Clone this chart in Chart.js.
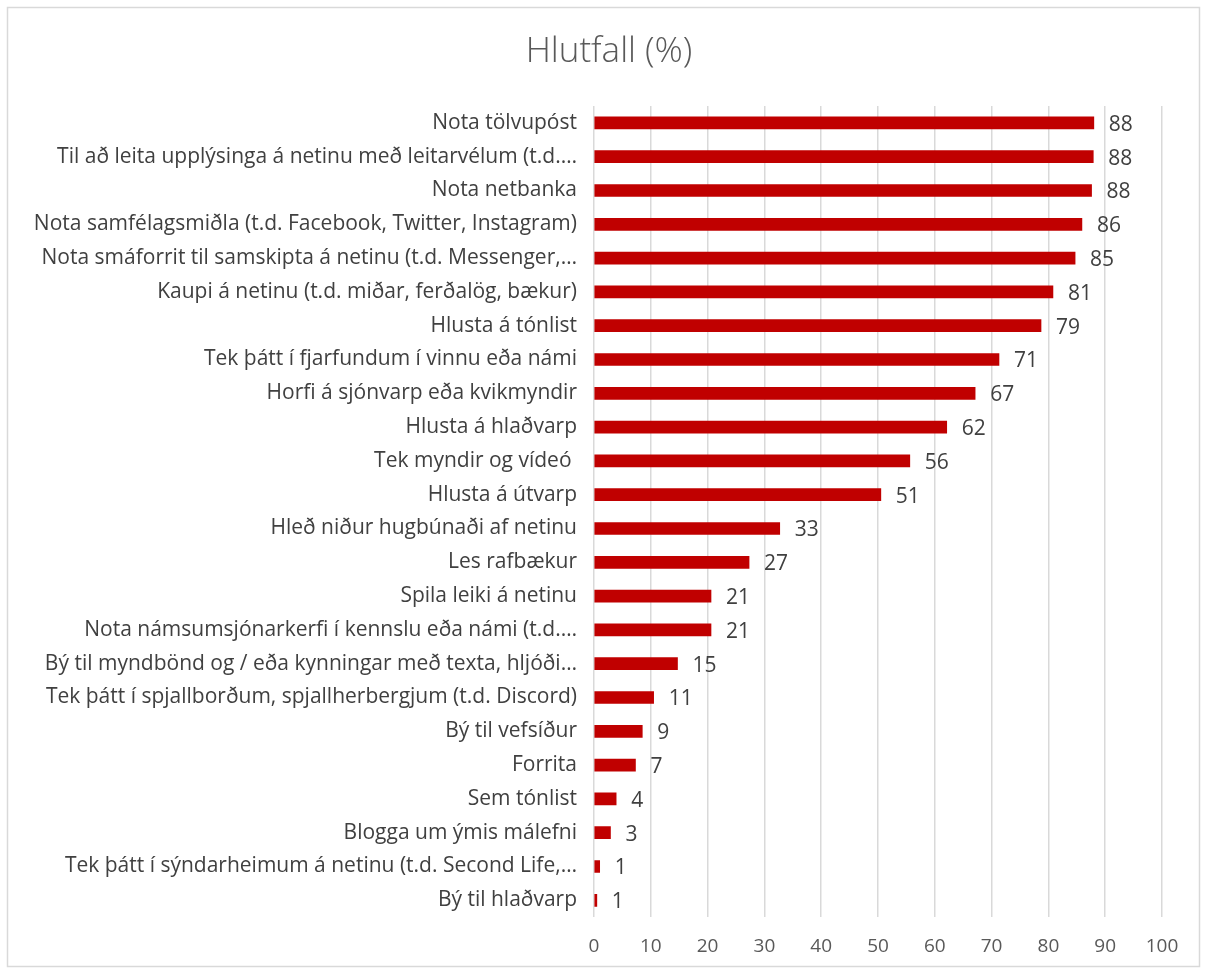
<!DOCTYPE html>
<html>
<head>
<meta charset="utf-8">
<script src="https://cdn.jsdelivr.net/npm/chart.js@4"></script>
<style>
  html, body { margin: 0; padding: 0; background: #fff; }
  #wrap { width: 1207px; height: 974px; }
</style>
</head>
<body>
<div id="wrap"><canvas id="myChart" width="1207" height="974"></canvas></div>
<script>
const activityLabels = [
    'Nota tölvupóst',
    'Til að leita upplýsinga á netinu með leitarvélum (t.d.…',
    'Nota netbanka',
    'Nota samfélagsmiðla (t.d. Facebook, Twitter, Instagram)',
    'Nota smáforrit til samskipta á netinu (t.d. Messenger,…',
    'Kaupi á netinu (t.d. miðar, ferðalög, bækur)',
    'Hlusta á tónlist',
    'Tek þátt í fjarfundum í vinnu eða námi',
    'Horfi á sjónvarp eða kvikmyndir',
    'Hlusta á hlaðvarp',
    'Tek myndir og vídeó ',
    'Hlusta á útvarp',
    'Hleð niður hugbúnaði af netinu',
    'Les rafbækur',
    'Spila leiki á netinu',
    'Nota námsumsjónarkerfi í kennslu eða námi (t.d.…',
    'Bý til myndbönd og / eða kynningar með texta, hljóði…',
    'Tek þátt í spjallborðum, spjallherbergjum (t.d. Discord)',
    'Bý til vefsíður',
    'Forrita',
    'Sem tónlist',
    'Blogga um ýmis málefni',
    'Tek þátt í sýndarheimum á netinu (t.d. Second Life,…',
    'Bý til hlaðvarp'
];
const shareValues = [88.0, 87.9, 87.6, 85.9, 84.7, 80.8, 78.7, 71.3, 67.1, 62.1, 55.6, 50.5,
    32.7, 27.3, 20.6, 20.6, 14.7, 10.5, 8.5, 7.3, 3.9, 2.9, 1.0, 0.5];
const xTicks = [0, 10, 20, 30, 40, 50, 60, 70, 80, 90, 100];
const chartTitle = 'Hlutfall (%)';

const fontFamily = '"Open Sans", Lato, sans-serif';

// frame round the whole chart and the title centred on it, like Excel does
const frame = {
    id: 'frame',
    beforeDraw(chart) {
        const c = chart.ctx;
        c.save();
        c.fillStyle = '#fff';
        c.fillRect(0, 0, chart.width, chart.height);
        c.strokeStyle = '#d9d9d9';
        c.lineWidth = 1.5;
        c.strokeRect(7.5, 7.5, 1192, 959);
        c.font = '300 35px ' + fontFamily;
        c.fillStyle = '#595959';
        c.textAlign = 'center';
        c.textBaseline = 'middle';
        c.fillText(chartTitle, 609, 52);
        c.restore();
    }
};

// value labels at the end of each bar
const barValues = {
    id: 'barValues',
    afterDatasetsDraw(chart) {
        const c = chart.ctx;
        const meta = chart.getDatasetMeta(0);
        c.save();
        c.font = '21px ' + fontFamily;
        c.fillStyle = '#404040';
        c.textAlign = 'left';
        c.textBaseline = 'middle';
        meta.data.forEach((bar, i) => {
            c.fillText(String(Math.round(shareValues[i])), bar.x + 15, bar.y + 2);
        });
        c.restore();
    }
};

const ctx = document.getElementById('myChart').getContext('2d');
const myChart = new Chart(ctx, {
    type: 'bar',
    data: {
        labels: activityLabels,
        datasets: [{
            label: chartTitle,
            data: shareValues,
            backgroundColor: '#c00000',
            borderWidth: 0,
            barThickness: 12
        }]
    },
    options: {
        indexAxis: 'y',
        responsive: false,
        animation: false,
        layout: {
            padding: { left: 0, right: 45, top: 106, bottom: -2 }
        },
        plugins: {
            legend: { display: false },
            tooltip: { enabled: false },
            title: { display: false }
        },
        scales: {
            x: {
                min: 0,
                max: 100,
                afterBuildTicks(scale) {
                    scale.ticks = xTicks.map(v => ({ value: v }));
                },
                grid: {
                    color: '#d9d9d9',
                    lineWidth: 1.5,
                    drawTicks: false
                },
                border: { display: false },
                ticks: {
                    color: '#595959',
                    font: { family: fontFamily, size: 19 },
                    padding: 18
                }
            },
            y: {
                afterFit(scale) {
                    scale.width = 594;
                },
                grid: { display: false },
                border: { display: false },
                ticks: {
                    color: '#404040',
                    font: { family: fontFamily, size: 21 },
                    padding: 9,
                    autoSkip: false
                }
            }
        }
    },
    plugins: [frame, barValues]
});
</script>
</body>
</html>
